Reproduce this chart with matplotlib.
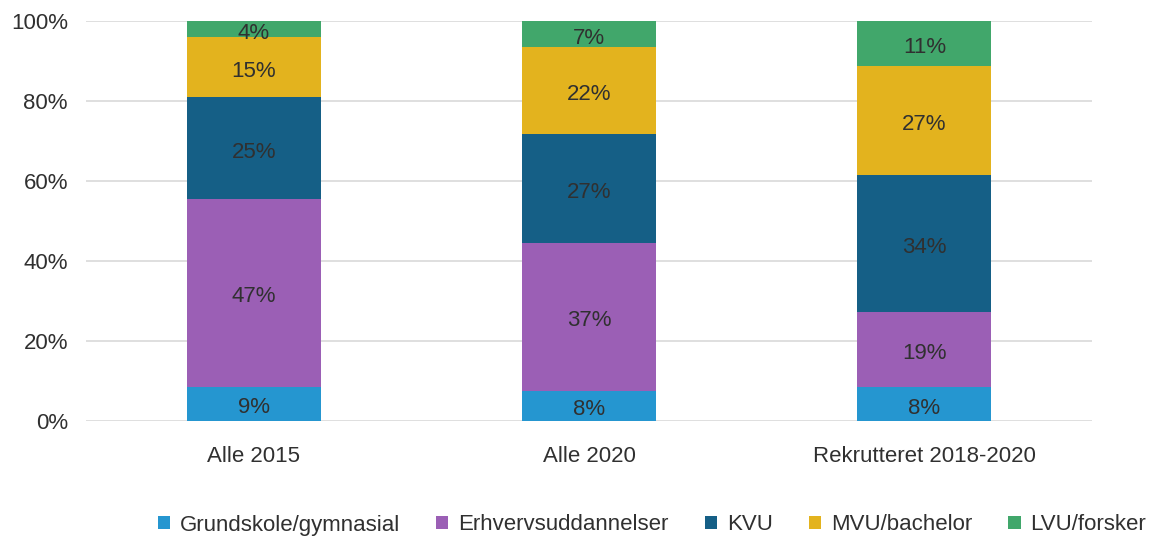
import matplotlib
matplotlib.use("Agg")
import matplotlib.pyplot as plt
import numpy as np

categories = ["Alle 2015", "Alle 2020", "Rekrutteret 2018-2020"]
series_names = ["Grundskole/gymnasial", "Erhvervsuddannelser", "KVU", "MVU/bachelor", "LVU/forsker"]
grundskole = [8.6, 7.6, 8.4]
erhverv = [46.9, 36.8, 18.8]
kvu = [25.4, 27.4, 34.4]
mvu = [15.0, 21.6, 27.1]
lvu = [4.1, 6.6, 11.3]
y_ticks = [0, 20, 40, 60, 80, 100]
y_ticklabels = ["0%", "20%", "40%", "60%", "80%", "100%"]

colors = ["#2596d0", "#9b5fb5", "#155f86", "#e3b31e", "#41a76b"]
text_color = "#303030"
fs = 16

plt.rcParams['font.family'] = ['Liberation Sans', 'DejaVu Sans']

fig = plt.figure(figsize=(11.55, 5.41), dpi=100)
ax = fig.add_axes([86/1155, 1 - 421/541, (1092-86)/1155, 400/541])

x = np.arange(len(categories))
bottom = np.zeros(len(categories))
handles = []
for name, vals, col in zip(series_names, [grundskole, erhverv, kvu, mvu, lvu], colors):
    vals = np.array(vals)
    b = ax.bar(x, vals, width=0.4, bottom=bottom, color=col, label=name, zorder=3)
    handles.append(b)
    for xi, v, bt in zip(x, vals, bottom):
        ax.text(xi, bt + v / 2 - 1.0, f"{round(v):.0f}%", ha="center", va="center",
                fontsize=fs, color=text_color, zorder=4)
    bottom = bottom + vals

ax.set_xlim(-0.5, 2.5)
ax.set_ylim(0, 100)
ax.set_yticks(y_ticks)
ax.set_yticklabels(y_ticklabels)
ax.set_xticks(x)
ax.set_xticklabels(categories)
ax.tick_params(axis="both", length=0, labelsize=fs, colors=text_color)
ax.tick_params(axis="y", pad=13)
ax.tick_params(axis="x", pad=18)
ax.yaxis.grid(True, color="#d9d9d9", linewidth=1.2, zorder=0)
for s in ax.spines.values():
    s.set_visible(False)

leg = fig.legend(handles=handles, labels=series_names, loc="center",
                 bbox_to_anchor=(652/1155, 1 - 525/541), ncol=5, frameon=False,
                 fontsize=fs, handlelength=0.55, handleheight=0.55,
                 handletextpad=0.45, columnspacing=1.62, labelcolor=text_color,
                 borderpad=0, borderaxespad=0)

fig.savefig("out.png", dpi=100)
